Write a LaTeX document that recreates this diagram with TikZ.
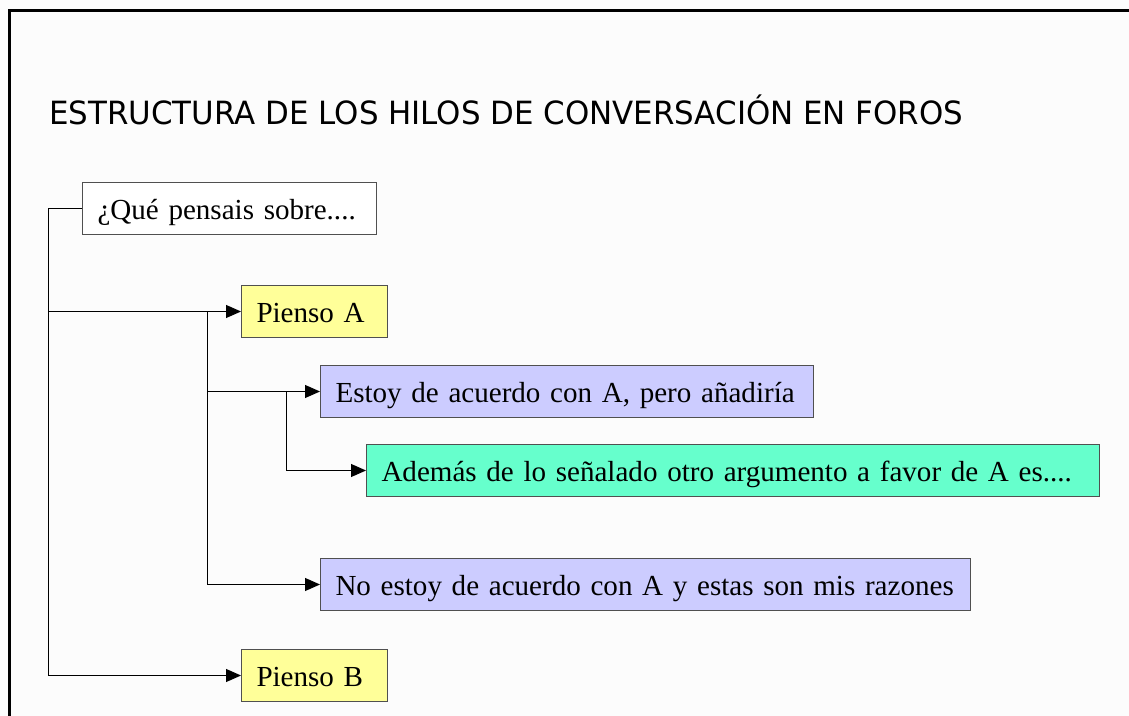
\documentclass[tikz,border=0pt]{standalone}
\usepackage{fontspec}
\setmainfont{Liberation Serif}
\newfontfamily\titlefont{DejaVu Sans}
\usetikzlibrary{arrows.meta}
\definecolor{yel}{HTML}{FFFF99}
\definecolor{lav}{HTML}{CCCCFF}
\definecolor{grn}{HTML}{66FFCC}
\definecolor{bg}{HTML}{FCFCFC}
\definecolor{edge}{HTML}{505050}
\begin{document}
\begin{tikzpicture}[x=0.75pt,y=-0.75pt,
  box/.style={draw=edge, line width=0.75pt, anchor=north west,
    minimum height=39pt, inner xsep=11.25pt, inner ysep=0pt,
    text height=16.5pt, text depth=0pt, align=left,
    font=\fontsize{21.8}{26}\selectfont},
  conn/.style={draw=black, line width=0.75pt, -{Triangle[length=11.25pt,width=9.75pt]}},
  plain/.style={draw=black, line width=0.75pt}]
\fill[bg] (0,0) rectangle (1129,716);
\useasboundingbox (0,0) rectangle (1129,716);
\draw[line width=2.25pt] (9,716) -- (9,11) -- (1129,11);
\node[anchor=base west, inner sep=0pt, font=\titlefont\fontsize{24}{28}\selectfont] (title) at (49,125)
  {\scalebox{0.965}[1]{ESTRUCTURA DE LOS HILOS DE CONVERSACIÓN EN FOROS}};
\node[box, fill=white, text width=264*0.75pt] (q) at (82,182) {\mbox{¿Qué pensais sobre....}};
\node[box, fill=yel, text width=116*0.75pt] (pa) at (241,285) {\mbox{Pienso A}};
\node[box, fill=lav, text width=463*0.75pt] (es) at (320,365) {\mbox{Estoy de acuerdo con A, pero añadiría}};
\node[box, fill=grn, text width=703*0.75pt] (ad) at (366,444) {\mbox{Además de lo señalado otro argumento a favor de A es....}};
\node[box, fill=lav, text width=620*0.75pt] (ne) at (320,558) {\mbox{No estoy de acuerdo con A y estas son mis razones}};
\node[box, fill=yel, text width=116*0.75pt] (pb) at (241,649) {\mbox{Pienso B}};
\coordinate (t1) at (48,0);
\coordinate (t2) at (207,0);
\coordinate (t3) at (286,0);
\draw[conn] (q.west) -- (q.west -| t1) |- (pb.west);
\draw[conn] (pa.west -| t1) -- (pa.west);
\draw[conn] (pa.west -| t2) |- (ne.west);
\draw[conn] (es.west -| t2) -- (es.west);
\draw[conn] (es.west -| t3) |- (ad.west);
\end{tikzpicture}
\end{document}
